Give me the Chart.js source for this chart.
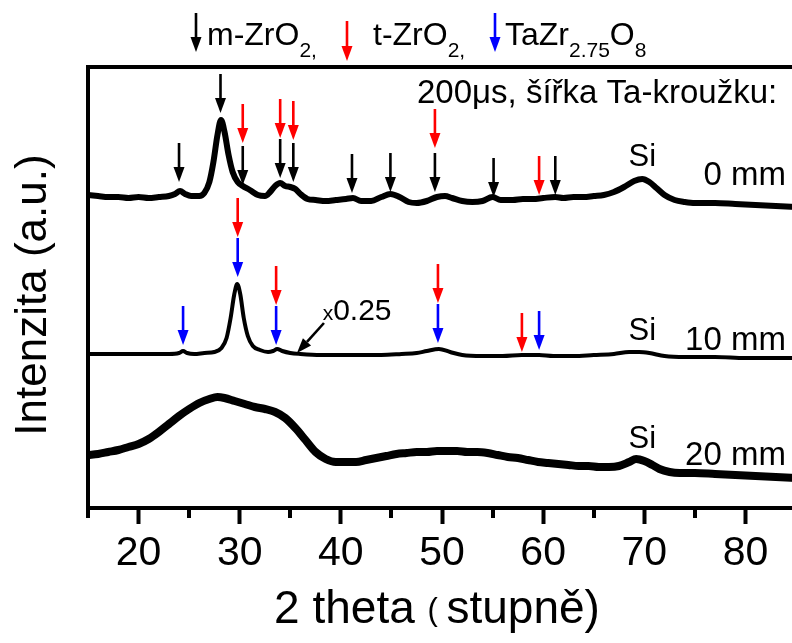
<!DOCTYPE html>
<html>
<head>
<meta charset="utf-8">
<script src="https://cdn.jsdelivr.net/npm/chart.js@4.4.0/dist/chart.umd.min.js"></script>
<style>
  html, body { margin: 0; padding: 0; background: #fff; overflow: hidden; }
  canvas { display: block; }
</style>
</head>
<body>
<canvas id="xrd" width="800" height="643"></canvas>
<script>
const FONT = "'Liberation Sans', Arial, sans-serif";

// 2 theta (deg) and intensity (a.u., already offset for stacking)
const angle0 = [15, 16, 17, 18, 19, 20, 21, 22, 23, 23.6, 24.1, 24.6, 25.2, 26, 26.5, 27, 27.4, 27.8, 28.15, 28.5,
  28.9, 29.3, 29.8, 30.3, 31, 31.8, 32.5, 33, 33.5, 34, 34.5, 35, 35.5, 36, 36.7, 37.5, 38.5, 39.5, 40.5, 41.2,
  42, 43, 44, 44.9, 45.8, 46.7, 47.5, 48.5, 49.5, 50.3, 51, 52, 53, 54, 55, 55.8, 57, 58, 59, 60,
  61.2, 62, 63, 64, 65, 66, 67, 68, 69, 69.8, 70.5, 71.2, 72, 73, 74, 75, 77, 79, 81, 83, 85];
const int0mm = [313, 312, 311, 311, 310, 311, 310, 311, 312, 314, 317, 314, 312, 312, 315, 326, 346, 373, 388, 376,
  353, 336, 326, 322, 318, 313, 312, 316, 322, 325, 322, 321, 319, 314, 309, 308, 307, 308, 309, 310,
  307, 307, 311, 314, 311, 306, 305, 307, 311, 312, 310, 307, 306, 307, 311, 308, 308, 309, 309, 310,
  311, 310, 311, 311, 312, 313, 316, 321, 327, 329, 326, 320, 313, 308, 306, 305, 305, 304, 303, 302, 301];

const angle10 = [15, 17, 19, 21, 23, 24, 24.4, 24.8, 25.5, 26.5, 27.5, 28.2, 28.7, 29.1, 29.45, 29.75, 30.05, 30.4,
  30.8, 31.3, 32, 32.8, 33.3, 33.7, 34.2, 35, 36, 38, 40, 42, 44, 46, 47.5, 48.5, 49.7, 50.8, 52, 54, 56,
  57.9, 59.6, 61, 63, 65, 67, 68.5, 69.5, 70.5, 72, 74, 77, 80, 83, 85];
const int10mm = [154, 154, 154, 154, 154, 155, 157, 155, 154, 155, 156, 160, 170, 190, 213, 224, 214, 190,
  172, 162, 158, 156, 157, 159, 157, 155, 154, 153, 153, 153, 153, 154, 155, 157, 159, 156, 153, 152, 152,
  153, 153, 152, 152, 153, 154, 156, 156, 155, 152, 151, 151, 150, 150, 150];

const angle20 = [15, 16, 17, 18, 19, 20, 21, 22, 23, 24, 25, 26, 27, 27.8, 28.5, 29.5, 30.5, 31.5, 32.5, 33.5,
  34.5, 35.5, 36.5, 37.5, 38.5, 39.5, 40.5, 41.5, 42.5, 43.5, 44.5, 45.5, 46.5, 47.5, 48.5, 49.5, 50.5, 51.5,
  52.5, 53.5, 54.5, 55.5, 56.5, 57.5, 58.5, 59.5, 60.5, 61.5, 62.5, 63.5, 64.5, 65.5, 66.5, 67.5, 68.5,
  69.2, 70, 70.8, 71.5, 72.5, 73.5, 75, 77, 79, 81, 83, 85];
const int20mm = [53, 54, 56, 58, 61, 64, 69, 76, 84, 92, 99, 105, 109, 111, 110, 107, 104, 101, 99, 96,
  90, 80, 68, 56, 49, 46, 46, 46, 48, 50, 52, 54, 55, 56, 56, 57, 57, 57,
  56, 56, 55, 53, 51, 50, 48, 46, 45, 44, 43, 42, 42, 41, 41, 42, 46,
  49, 47, 43, 39, 36, 35, 35, 34, 33, 32, 31, 30];

const tickVals = [20, 30, 40, 50, 60, 70, 80];
const minorVals = [15, 25, 35, 45, 55, 65, 75, 85];

// phase markers: position (deg) and arrow tip height
const mono0Pos = [24.0, 28.1, 30.3, 34.0, 35.3, 41.1, 44.9, 49.3, 55.1, 61.2];
const mono0Tip = [326, 395, 323, 330, 326, 315, 316, 316, 311, 313];
const tetra0Pos = [30.3, 34.0, 35.3, 49.3, 59.6];
const tetra0Tip = [365, 370, 368, 360, 313];
const tetra10Pos = [29.8, 33.6, 49.6, 57.9];
const tetra10Tip = [271, 203, 205, 156];
const taZr10Pos = [24.4, 29.8, 33.6, 49.6, 59.6];
const taZr10Tip = [163, 231, 163, 165, 158];

const toPoints = (xs, ys) => xs.map((v, i) => ({ x: v, y: ys[i] }));

function arrow(ctx, x0, y0, x1, y1, color) {
  const head = 15, hw = 5.5;
  const a = Math.atan2(y1 - y0, x1 - x0);
  const bx = x1 - head * Math.cos(a), by = y1 - head * Math.sin(a);
  ctx.save();
  ctx.strokeStyle = color;
  ctx.fillStyle = color;
  ctx.lineWidth = 2.6;
  ctx.beginPath();
  ctx.moveTo(x0, y0);
  ctx.lineTo(bx, by);
  ctx.stroke();
  ctx.beginPath();
  ctx.moveTo(x1, y1);
  ctx.lineTo(bx + hw * Math.sin(a), by - hw * Math.cos(a));
  ctx.lineTo(bx - hw * Math.sin(a), by + hw * Math.cos(a));
  ctx.closePath();
  ctx.fill();
  ctx.restore();
}

// text with subscript pieces: [text, size, dy]
function runs(ctx, x, y, parts) {
  for (const [t, size, dy] of parts) {
    ctx.font = size + 'px ' + FONT;
    ctx.fillText(t, x, y + dy);
    x += ctx.measureText(t).width;
  }
  return x;
}
function runsWidth(ctx, parts) {
  let w = 0;
  for (const [t, size] of parts) {
    ctx.font = size + 'px ' + FONT;
    w += ctx.measureText(t).width;
  }
  return w;
}

const markers = {
  id: 'markers',
  afterDraw(chart) {
    const { ctx, scales: { x, y } } = chart;
    const len = 39;
    ctx.save();
    ctx.fillStyle = '#000';
    ctx.textBaseline = 'alphabetic';

    // minor ticks
    ctx.strokeStyle = '#000';
    ctx.lineWidth = 4;
    for (const v of minorVals) {
      const px = Math.round(x.getPixelForValue(v));
      ctx.beginPath();
      ctx.moveTo(px, y.bottom);
      ctx.lineTo(px, y.bottom + 10);
      ctx.stroke();
    }

    const drawSet = (pos, tip, color, l) => {
      pos.forEach((p, i) => {
        const px = x.getPixelForValue(p), py = y.getPixelForValue(tip[i]);
        arrow(ctx, px, py - l, px, py, color);
      });
    };
    drawSet(mono0Pos, mono0Tip, '#000', len);
    drawSet(tetra0Pos, tetra0Tip, '#ff0000', len);
    drawSet(tetra10Pos, tetra10Tip, '#ff0000', len);
    drawSet(taZr10Pos, taZr10Tip, '#0000ff', len);

    // x0.25 note on the 10 mm pattern
    const tx = x.getPixelForValue(35.66), ty = y.getPixelForValue(155);
    arrow(ctx, tx + 27, ty - 30, tx, ty, '#000');
    runs(ctx, x.getPixelForValue(38.2), y.getPixelForValue(188), [['x', 21, 0], ['0.25', 30, 0]]);

    // Si reflections
    ctx.textAlign = 'center';
    ctx.font = '31px ' + FONT;
    [342, 168, 60].forEach(v => ctx.fillText('Si', x.getPixelForValue(69.8), y.getPixelForValue(v)));

    // ring width labels
    ctx.textAlign = 'right';
    ctx.font = '33px ' + FONT;
    ctx.fillText('0 mm', x.getPixelForValue(84.0), y.getPixelForValue(323));
    ctx.fillText('10 mm', x.getPixelForValue(84.0), y.getPixelForValue(158));
    ctx.fillText('20 mm', x.getPixelForValue(84.0), y.getPixelForValue(43));

    ctx.textAlign = 'left';
    ctx.font = '33px ' + FONT;
    ctx.fillText('200\u03bcs, šířka Ta-kroužku:', 417, 103);

    // phase key above the frame
    arrow(ctx, 196, 13, 196, 52, '#000');
    runs(ctx, 207, 45, [['m-ZrO', 32, 0], ['2,', 21, 12]]);
    arrow(ctx, 347, 21, 347, 61, '#ff0000');
    runs(ctx, 373, 45, [['t-ZrO', 32, 0], ['2,', 21, 12]]);
    arrow(ctx, 495, 13, 495, 52, '#0000ff');
    runs(ctx, 505, 45, [['TaZr', 32, 0], ['2.75', 21, 12], ['O', 32, 0], ['8', 21, 12]]);

    // axis titles
    const xt = [['2 theta ', 46, 0], ['( ', 31, -3], ['stupně)', 46, 0]];
    runs(ctx, 437 - runsWidth(ctx, xt) / 2, 623, xt);

    ctx.translate(46, 295);
    ctx.rotate(-Math.PI / 2);
    ctx.textAlign = 'center';
    ctx.font = '44px ' + FONT;
    ctx.fillText('Intenzita (a.u.)', 0, 0);
    ctx.restore();
  }
};

const line = (data, w) => ({
  data, borderColor: '#000', borderWidth: w, pointRadius: 0,
  cubicInterpolationMode: 'monotone', borderJoinStyle: 'round', fill: false,
});

new Chart(document.getElementById('xrd'), {
  type: 'line',
  data: {
    datasets: [
      line(toPoints(angle0, int0mm), 6),
      line(toPoints(angle10, int10mm), 4),
      line(toPoints(angle20, int20mm), 8),
    ],
  },
  options: {
    responsive: false,
    animation: false,
    layout: { padding: { right: 4 } },
    plugins: { legend: { display: false }, tooltip: { enabled: false } },
    scales: {
      x: {
        type: 'linear', position: 'bottom', min: 15, max: 85,
        afterFit: s => { s.height = 135; },
        afterBuildTicks: s => { s.ticks = tickVals.map(v => ({ value: v })); },
        grid: { drawOnChartArea: false, tickLength: 16, tickWidth: 4, tickColor: '#000' },
        border: { display: true, width: 4, color: '#000' },
        ticks: { font: { family: FONT, size: 41 }, color: '#000', padding: 5, maxRotation: 0, autoSkip: false },
      },
      xTop: {
        type: 'linear', position: 'top', min: 15, max: 85,
        afterFit: s => { s.height = 67; },
        ticks: { display: false },
        grid: { display: false, drawTicks: false },
        border: { display: true, width: 4, color: '#000' },
      },
      y: {
        min: 0, max: 441,
        afterFit: s => { s.width = 88; },
        ticks: { display: false },
        grid: { display: false, drawTicks: false },
        border: { display: true, width: 4, color: '#000' },
      },
    },
  },
  plugins: [markers],
});
</script>
</body>
</html>
